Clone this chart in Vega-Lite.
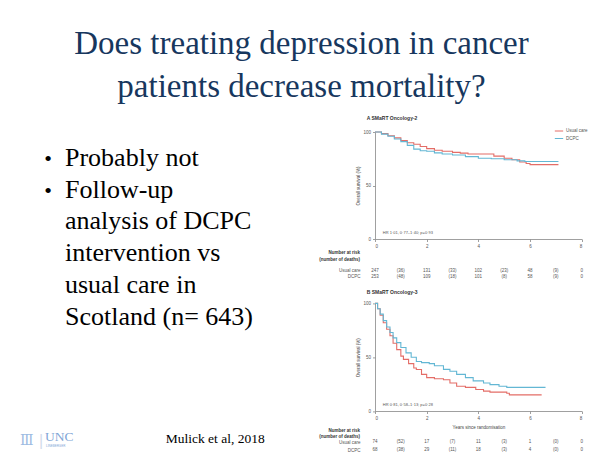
{
  "$schema": "https://vega.github.io/schema/vega-lite/v6.json",
  "background": "white",
  "padding": {"left": 5, "top": 27, "right": 0, "bottom": 0},
  "config": {
    "view": {"stroke": null},
    "font": "Liberation Sans",
    "axis": {
      "grid": false,
      "labelFont": "Liberation Sans",
      "titleFont": "Liberation Sans",
      "labelFontSize": 4.5,
      "titleFontSize": 4.5,
      "labelColor": "#555",
      "titleColor": "#444",
      "titleFontWeight": "normal",
      "domainColor": "#888",
      "domainWidth": 0.8,
      "tickColor": "#888",
      "tickWidth": 0.8,
      "tickSize": 2.5,
      "labelPadding": 2,
      "labelOverlap": false
    }
  },
  "title": {
    "text": ["Does treating depression in cancer", "patients decrease mortality?"],
    "font": "Liberation Serif",
    "fontSize": 33,
    "fontWeight": "normal",
    "color": "#17375e",
    "lineHeight": 43.5,
    "anchor": "middle",
    "dx": 5,
    "offset": 12
  },
  "datasets": {
    "bullets": [
      {"line": 1, "bullet": "•", "text": "Probably not"},
      {"line": 2, "bullet": "•", "text": "Follow-up"},
      {"line": 3, "bullet": "", "text": "analysis of DCPC"},
      {"line": 4, "bullet": "", "text": "intervention vs"},
      {"line": 5, "bullet": "", "text": "usual care in"},
      {"line": 6, "bullet": "", "text": "Scotland (n= 643)"}
    ],
    "footer": [
      {"item": "logo", "text": "UNC"},
      {"item": "sub", "text": "LINEBERGER"},
      {"item": "icon", "text": "Ⅲ"},
      {"item": "sep", "text": "|"},
      {"item": "citation", "text": "Mulick et al, 2018"}
    ],
    "empty": [],
    "hr": [
      {"panel": "A", "label": "HR 1·01, 0·77–1·40; p=0·93"},
      {"panel": "B", "label": "HR 0·81, 0·58–1·13; p=0·28"}
    ],
    "kmA": [
      {"group": "Usual care", "t": 0, "s": 100},
      {"group": "Usual care", "t": 0.25, "s": 98.5},
      {"group": "Usual care", "t": 0.5, "s": 96.5},
      {"group": "Usual care", "t": 0.75, "s": 94.5},
      {"group": "Usual care", "t": 1.0, "s": 92},
      {"group": "Usual care", "t": 1.25, "s": 90},
      {"group": "Usual care", "t": 1.5, "s": 88.5},
      {"group": "Usual care", "t": 1.75, "s": 86.5},
      {"group": "Usual care", "t": 2.0, "s": 84.5},
      {"group": "Usual care", "t": 2.3, "s": 83},
      {"group": "Usual care", "t": 2.6, "s": 82},
      {"group": "Usual care", "t": 3.0, "s": 81},
      {"group": "Usual care", "t": 3.3, "s": 80.3},
      {"group": "Usual care", "t": 3.6, "s": 79.5},
      {"group": "Usual care", "t": 4.6, "s": 77.5},
      {"group": "Usual care", "t": 5.0, "s": 75.5},
      {"group": "Usual care", "t": 5.3, "s": 74},
      {"group": "Usual care", "t": 5.6, "s": 72},
      {"group": "Usual care", "t": 5.85, "s": 70.5},
      {"group": "Usual care", "t": 6.0, "s": 69.5},
      {"group": "Usual care", "t": 7.1, "s": 69.5},
      {"group": "DCPC", "t": 0, "s": 100},
      {"group": "DCPC", "t": 0.25, "s": 98},
      {"group": "DCPC", "t": 0.5, "s": 96},
      {"group": "DCPC", "t": 0.75, "s": 93.5},
      {"group": "DCPC", "t": 1.0, "s": 91},
      {"group": "DCPC", "t": 1.25, "s": 87.5},
      {"group": "DCPC", "t": 1.5, "s": 84},
      {"group": "DCPC", "t": 1.75, "s": 82.5},
      {"group": "DCPC", "t": 2.0, "s": 82},
      {"group": "DCPC", "t": 2.3, "s": 80.5},
      {"group": "DCPC", "t": 2.6, "s": 79.5},
      {"group": "DCPC", "t": 3.0, "s": 78.5},
      {"group": "DCPC", "t": 3.5, "s": 77},
      {"group": "DCPC", "t": 4.0, "s": 75.5},
      {"group": "DCPC", "t": 4.5, "s": 75},
      {"group": "DCPC", "t": 5.0, "s": 74},
      {"group": "DCPC", "t": 5.5, "s": 73},
      {"group": "DCPC", "t": 5.8, "s": 72.5},
      {"group": "DCPC", "t": 7.1, "s": 72.5}
    ],
    "kmB": [
      {"group": "Usual care", "t": 0, "s": 100},
      {"group": "Usual care", "t": 0.1, "s": 95},
      {"group": "Usual care", "t": 0.2, "s": 89},
      {"group": "Usual care", "t": 0.32, "s": 82},
      {"group": "Usual care", "t": 0.45, "s": 76},
      {"group": "Usual care", "t": 0.58, "s": 70},
      {"group": "Usual care", "t": 0.7, "s": 63},
      {"group": "Usual care", "t": 0.84, "s": 57},
      {"group": "Usual care", "t": 1.0, "s": 51},
      {"group": "Usual care", "t": 1.1, "s": 48},
      {"group": "Usual care", "t": 1.3, "s": 44},
      {"group": "Usual care", "t": 1.5, "s": 40},
      {"group": "Usual care", "t": 1.6, "s": 38.5},
      {"group": "Usual care", "t": 1.8, "s": 34},
      {"group": "Usual care", "t": 2.0, "s": 31},
      {"group": "Usual care", "t": 2.3, "s": 30},
      {"group": "Usual care", "t": 2.65, "s": 29},
      {"group": "Usual care", "t": 2.9, "s": 26},
      {"group": "Usual care", "t": 3.16, "s": 23},
      {"group": "Usual care", "t": 3.5, "s": 22},
      {"group": "Usual care", "t": 3.9, "s": 20},
      {"group": "Usual care", "t": 4.2, "s": 18.5},
      {"group": "Usual care", "t": 4.45, "s": 17.5},
      {"group": "Usual care", "t": 5.1, "s": 16.5},
      {"group": "Usual care", "t": 5.2, "s": 15},
      {"group": "Usual care", "t": 6.45, "s": 15},
      {"group": "DCPC", "t": 0, "s": 100},
      {"group": "DCPC", "t": 0.1, "s": 95},
      {"group": "DCPC", "t": 0.2, "s": 90},
      {"group": "DCPC", "t": 0.32, "s": 84},
      {"group": "DCPC", "t": 0.45, "s": 78},
      {"group": "DCPC", "t": 0.58, "s": 73},
      {"group": "DCPC", "t": 0.7, "s": 68},
      {"group": "DCPC", "t": 0.84, "s": 63.5},
      {"group": "DCPC", "t": 1.0, "s": 59},
      {"group": "DCPC", "t": 1.2, "s": 54},
      {"group": "DCPC", "t": 1.4, "s": 50},
      {"group": "DCPC", "t": 1.6, "s": 46},
      {"group": "DCPC", "t": 1.8, "s": 45},
      {"group": "DCPC", "t": 2.1, "s": 44},
      {"group": "DCPC", "t": 2.3, "s": 42},
      {"group": "DCPC", "t": 2.65, "s": 38.7},
      {"group": "DCPC", "t": 2.9, "s": 37},
      {"group": "DCPC", "t": 3.16, "s": 34},
      {"group": "DCPC", "t": 3.5, "s": 31},
      {"group": "DCPC", "t": 3.8, "s": 28},
      {"group": "DCPC", "t": 4.2, "s": 26},
      {"group": "DCPC", "t": 4.45, "s": 24.5},
      {"group": "DCPC", "t": 4.8, "s": 23},
      {"group": "DCPC", "t": 5.1, "s": 22},
      {"group": "DCPC", "t": 6.6, "s": 22}
    ],
    "riskA": [
      {"group": "Usual care", "t": 0, "label": "247"},
      {"group": "Usual care", "t": 1, "label": "(36)"},
      {"group": "Usual care", "t": 2, "label": "131"},
      {"group": "Usual care", "t": 3, "label": "(33)"},
      {"group": "Usual care", "t": 4, "label": "102"},
      {"group": "Usual care", "t": 5, "label": "(23)"},
      {"group": "Usual care", "t": 6, "label": "48"},
      {"group": "Usual care", "t": 7, "label": "(9)"},
      {"group": "Usual care", "t": 8, "label": "0"},
      {"group": "DCPC", "t": 0, "label": "253"},
      {"group": "DCPC", "t": 1, "label": "(48)"},
      {"group": "DCPC", "t": 2, "label": "109"},
      {"group": "DCPC", "t": 3, "label": "(18)"},
      {"group": "DCPC", "t": 4, "label": "101"},
      {"group": "DCPC", "t": 5, "label": "(8)"},
      {"group": "DCPC", "t": 6, "label": "58"},
      {"group": "DCPC", "t": 7, "label": "(9)"},
      {"group": "DCPC", "t": 8, "label": "0"}
    ],
    "riskB": [
      {"group": "Usual care", "t": 0, "label": "74"},
      {"group": "Usual care", "t": 1, "label": "(52)"},
      {"group": "Usual care", "t": 2, "label": "17"},
      {"group": "Usual care", "t": 3, "label": "(7)"},
      {"group": "Usual care", "t": 4, "label": "11"},
      {"group": "Usual care", "t": 5, "label": "(3)"},
      {"group": "Usual care", "t": 6, "label": "1"},
      {"group": "Usual care", "t": 7, "label": "(0)"},
      {"group": "Usual care", "t": 8, "label": "0"},
      {"group": "DCPC", "t": 0, "label": "68"},
      {"group": "DCPC", "t": 1, "label": "(38)"},
      {"group": "DCPC", "t": 2, "label": "29"},
      {"group": "DCPC", "t": 3, "label": "(11)"},
      {"group": "DCPC", "t": 4, "label": "18"},
      {"group": "DCPC", "t": 5, "label": "(3)"},
      {"group": "DCPC", "t": 6, "label": "4"},
      {"group": "DCPC", "t": 7, "label": "(0)"},
      {"group": "DCPC", "t": 8, "label": "0"}
    ]
  },
  "columns": 2,
  "spacing": {"row": 26.2, "column": 250},
  "bounds": "flush",
  "resolve": {"legend": {"color": "independent"}, "scale": {"color": "independent"}},
  "concat": [
    {
      "width": 120,
      "height": 107,
      "data": {"name": "bullets"},
      "layer": [
        {
          "mark": {"type": "text", "align": "left", "baseline": "alphabetic", "font": "Liberation Serif", "fontSize": 26, "color": "black"},
          "encoding": {
            "y": {"field": "line", "type": "quantitative", "axis": null, "scale": {"domain": [-0.06, 3.305], "reverse": true, "zero": false, "nice": false}},
            "text": {"field": "text"}
          }
        },
        {
          "mark": {"type": "text", "align": "center", "baseline": "alphabetic", "font": "Liberation Serif", "fontSize": 22, "color": "black", "dx": -17},
          "encoding": {
            "y": {"field": "line", "type": "quantitative", "axis": null, "scale": {"domain": [-0.06, 3.305], "reverse": true, "zero": false, "nice": false}},
            "text": {"field": "bullet"}
          }
        }
      ]
    },
    {
      "width": 206.7,
      "height": 107,
      "title": {"text": "A  SMaRT Oncology-2", "anchor": "start", "frame": "group", "dx": -8.3, "fontSize": 5, "fontWeight": "bold", "color": "#333", "offset": 5, "font": "Liberation Sans"},
      "layer": [
        {
          "data": {"name": "kmA"},
          "mark": {"type": "line", "interpolate": "step-after", "strokeWidth": 1.1},
          "encoding": {
            "x": {"field": "t", "type": "quantitative", "scale": {"domain": [0, 8]}, "axis": {"values": [0, 2, 4, 6, 8], "title": null}},
            "y": {"field": "s", "type": "quantitative", "scale": {"domain": [0, 100]}, "axis": {"values": [0, 25, 50, 75, 100], "title": "Overall survival (%)", "titlePadding": 2}},
            "color": {"field": "group", "type": "nominal", "scale": {"domain": ["Usual care", "DCPC"], "range": ["#e46d67", "#63b7d4"]},
              "legend": {"orient": "top-right", "title": null, "symbolType": "stroke", "labelFontSize": 4.5, "labelColor": "#555", "symbolSize": 70, "symbolStrokeWidth": 1, "rowPadding": 0.5, "offset": -6, "padding": 0, "labelOffset": 2}}
          }
        },
        {
          "data": {"name": "hr"},
          "transform": [{"filter": "datum.panel == 'A'"}],
          "mark": {"type": "text", "align": "left", "fontSize": 4, "color": "#555"},
          "encoding": {
            "x": {"datum": 0.3, "type": "quantitative"},
            "y": {"datum": 6, "type": "quantitative"},
            "text": {"field": "label"}
          }
        }
      ]
    },
    {
      "width": 120,
      "height": 1,
      "data": {"name": "empty"},
      "mark": {"type": "text"},
      "encoding": {}
    },
    {
      "width": 206.7,
      "height": 12,
      "data": {"name": "riskA"},
      "title": {"text": ["Number at risk", "(number of deaths)"], "anchor": "start", "frame": "group", "align": "right", "dx": -15, "fontSize": 4.5, "fontWeight": "bold", "color": "#333", "offset": 4, "lineHeight": 6.5, "font": "Liberation Sans"},
      "mark": {"type": "text", "fontSize": 4.5, "color": "#555"},
      "encoding": {
        "x": {"field": "t", "type": "quantitative", "scale": {"domain": [0, 8]}, "axis": null},
        "y": {"field": "group", "type": "nominal", "scale": {"type": "point", "domain": ["Usual care", "DCPC"], "padding": 0.55, "align": 0.92}, "axis": {"title": null, "domain": false, "ticks": false, "labelPadding": 15}},
        "text": {"field": "label"}
      }
    },
    {
      "width": 120,
      "height": 1,
      "data": {"name": "empty"},
      "mark": {"type": "text"},
      "encoding": {}
    },
    {
      "width": 206.7,
      "height": 107.6,
      "title": {"text": "B  SMaRT Oncology-3", "anchor": "start", "frame": "group", "dx": -8.3, "fontSize": 5, "fontWeight": "bold", "color": "#333", "offset": 5, "font": "Liberation Sans"},
      "layer": [
        {
          "data": {"name": "kmB"},
          "mark": {"type": "line", "interpolate": "step-after", "strokeWidth": 1.1},
          "encoding": {
            "x": {"field": "t", "type": "quantitative", "scale": {"domain": [0, 8]}, "axis": {"values": [0, 2, 4, 6, 8], "title": "Years since randomisation", "titlePadding": 4}},
            "y": {"field": "s", "type": "quantitative", "scale": {"domain": [0, 100]}, "axis": {"values": [0, 25, 50, 75, 100], "title": "Overall survival (%)", "titlePadding": 2}},
            "color": {"field": "group", "type": "nominal", "scale": {"domain": ["Usual care", "DCPC"], "range": ["#e46d67", "#63b7d4"]}, "legend": null}
          }
        },
        {
          "data": {"name": "hr"},
          "transform": [{"filter": "datum.panel == 'B'"}],
          "mark": {"type": "text", "align": "left", "fontSize": 4, "color": "#555"},
          "encoding": {
            "x": {"datum": 0.3, "type": "quantitative"},
            "y": {"datum": 6, "type": "quantitative"},
            "text": {"field": "label"}
          }
        }
      ]
    },
    {
      "width": 120,
      "height": 24,
      "data": {"name": "footer"},
      "layer": [
        {
          "transform": [{"filter": "datum.item == 'citation'"}],
          "mark": {"type": "text", "align": "left", "baseline": "alphabetic", "font": "Liberation Serif", "fontSize": 13.5, "color": "black", "dx": 100.7, "dy": -6.2},
          "encoding": {"text": {"field": "text"}}
        },
        {
          "transform": [{"filter": "datum.item == 'logo'"}],
          "mark": {"type": "text", "align": "left", "baseline": "alphabetic", "font": "Liberation Serif", "fontSize": 13.5, "color": "#7fa6d6", "dx": -20, "dy": -8.2},
          "encoding": {"text": {"field": "text"}}
        },
        {
          "transform": [{"filter": "datum.item == 'sub'"}],
          "mark": {"type": "text", "align": "left", "baseline": "alphabetic", "font": "Liberation Sans", "fontSize": 3, "color": "#7fa6d6", "dx": -19, "dy": -2.7},
          "encoding": {"text": {"field": "text"}}
        },
        {
          "transform": [{"filter": "datum.item == 'icon'"}],
          "mark": {"type": "text", "align": "left", "baseline": "alphabetic", "font": "DejaVu Serif", "fontSize": 14, "color": "#9dbbe2", "dx": -45, "dy": -4.2},
          "encoding": {"text": {"field": "text"}}
        },
        {
          "transform": [{"filter": "datum.item == 'sep'"}],
          "mark": {"type": "text", "align": "left", "baseline": "alphabetic", "font": "Liberation Sans", "fontSize": 16, "color": "#d3dcea", "dx": -26, "dy": -3.2},
          "encoding": {"text": {"field": "text"}}
        }
      ]
    },
    {
      "width": 206.7,
      "height": 24,
      "data": {"name": "riskB"},
      "title": {"text": ["Number at risk", "(number of deaths)"], "anchor": "start", "frame": "group", "align": "right", "dx": -15, "fontSize": 4.5, "fontWeight": "bold", "color": "#333", "offset": -1, "lineHeight": 6.5, "font": "Liberation Sans"},
      "mark": {"type": "text", "fontSize": 4.5, "color": "#555"},
      "encoding": {
        "x": {"field": "t", "type": "quantitative", "scale": {"domain": [0, 8]}, "axis": null},
        "y": {"field": "group", "type": "nominal", "scale": {"type": "point", "domain": ["Usual care", "DCPC"], "padding": 1.214, "align": 0.3}, "axis": {"title": null, "domain": false, "ticks": false, "labelPadding": 15}},
        "text": {"field": "label"}
      }
    }
  ]
}
